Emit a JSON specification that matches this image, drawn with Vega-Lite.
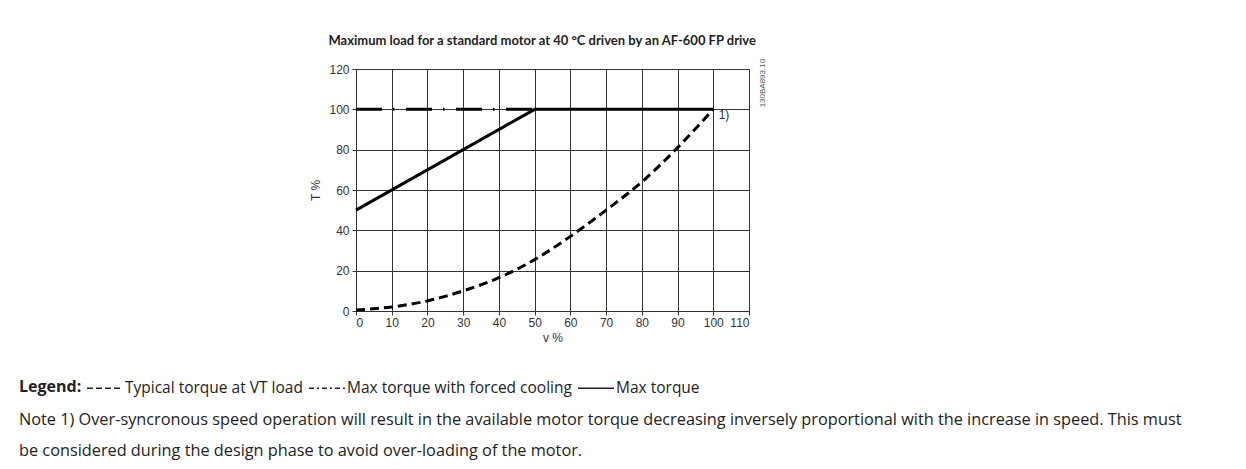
{
  "$schema": "https://vega.github.io/schema/vega-lite/v6.json",
  "background": "white",
  "padding": {"left": 18, "top": 35, "right": 10, "bottom": 10},
  "config": {
    "view": {"stroke": "#333", "strokeWidth": 1},
    "font": "Liberation Sans",
    "axis": {
      "gridColor": "#333", "gridOpacity": 1, "gridWidth": 1,
      "domainColor": "#333", "tickColor": "#333", "tickSize": 4,
      "labelColor": "#333", "labelFont": "Liberation Sans", "labelFontSize": 12,
      "titleFont": "Liberation Sans", "titleFontWeight": "normal", "titleFontSize": 12, "titleColor": "#333"
    }
  },
  "datasets": {
    "curves": [
      {"series": "Typical torque at VT load", "v": 0, "t": 0.5},
      {"series": "Typical torque at VT load", "v": 10, "t": 2},
      {"series": "Typical torque at VT load", "v": 20, "t": 5},
      {"series": "Typical torque at VT load", "v": 30, "t": 10},
      {"series": "Typical torque at VT load", "v": 40, "t": 16.5},
      {"series": "Typical torque at VT load", "v": 50, "t": 25.5},
      {"series": "Typical torque at VT load", "v": 60, "t": 37},
      {"series": "Typical torque at VT load", "v": 70, "t": 50},
      {"series": "Typical torque at VT load", "v": 80, "t": 64},
      {"series": "Typical torque at VT load", "v": 90, "t": 81},
      {"series": "Typical torque at VT load", "v": 100, "t": 100},
      {"series": "Max torque with forced cooling", "v": 0, "t": 100},
      {"series": "Max torque with forced cooling", "v": 50, "t": 100},
      {"series": "Max torque", "v": 0, "t": 50},
      {"series": "Max torque", "v": 50, "t": 100},
      {"series": "Max torque", "v": 100, "t": 100}
    ],
    "notes": [
      {"label": "1)", "v": 101.5, "t": 97}
    ],
    "code": [
      {"label": "130BA893.10", "v": 113.9, "t": 113}
    ]
  },
  "title": {
    "text": "Maximum load for a standard motor at 40 °C driven by an AF-600 FP drive",
    "font": "Lato", "fontSize": 13, "fontWeight": "bold", "color": "#222",
    "anchor": "start", "dx": 310, "dy": 2, "offset": 12
  },
  "vconcat": [
    {
      "width": 393,
      "height": 242,
      "title": {
        "text": [
          "Note 1) Over-syncronous speed operation will result in the available motor torque decreasing inversely proportional with the increase in speed. This must",
          "be considered during the design phase to avoid over-loading of the motor."
        ],
        "orient": "bottom", "anchor": "start", "frame": "group", "dx": -337, "offset": 69,
        "font": "Open Sans", "fontSize": 16.3, "fontWeight": "normal", "color": "#222", "lineHeight": 31
      },
      "encoding": {
        "x": {"field": "v", "type": "quantitative", "scale": {"domain": [0, 110], "nice": false},
          "axis": {"values": [0, 10, 20, 30, 40, 50, 60, 70, 80, 90, 100, 110], "title": "v %", "labelPadding": 2, "titlePadding": 4, "labelOverlap": false}},
        "y": {"field": "t", "type": "quantitative", "scale": {"domain": [0, 120], "nice": false},
          "axis": {"values": [0, 20, 40, 60, 80, 100, 120], "title": "T %", "labelPadding": 3, "titlePadding": 6, "labelOverlap": false}}
      },
      "layer": [
        {
          "data": {"name": "curves"},
          "mark": {"type": "line", "color": "black", "strokeWidth": 0},
          "encoding": {
            "strokeDash": {
              "field": "series", "type": "nominal",
              "scale": {
                "domain": ["Typical torque at VT load", "Max torque with forced cooling", "Max torque"],
                "range": [[6, 3], [5, 3, 2, 3], [1, 0]]
              },
              "legend": {
                "orient": "none", "direction": "horizontal", "legendX": -337, "legendY": 300,
                "title": "Legend:", "titleOrient": "left", "titleAnchor": "middle", "titleBaseline": "line-top", "titleLineHeight": 8,
                "titleFont": "Open Sans", "titleFontWeight": "bold",
                "titleFontSize": 16, "titleColor": "#222", "titlePadding": 4,
                "labelFont": "Open Sans", "labelFontSize": 15.5, "labelColor": "#222", "labelOffset": 1,
                "symbolType": "stroke", "symbolSize": 1300, "symbolStrokeWidth": 1.6, "symbolStrokeColor": "#222",
                "columnPadding": 2, "labelLimit": 400
              }
            }
          }
        },
        {
          "data": {"name": "curves"},
          "transform": [{"filter": "datum.series === 'Typical torque at VT load'"}],
          "mark": {"type": "line", "color": "black", "strokeWidth": 3, "interpolate": "monotone", "strokeDash": [9, 5]},
          "encoding": {}
        },
        {
          "data": {"name": "curves"},
          "transform": [{"filter": "datum.series === 'Max torque with forced cooling'"}],
          "mark": {"type": "line", "color": "black", "strokeWidth": 3, "strokeDash": [26, 11, 1.5, 11.5]},
          "encoding": {}
        },
        {
          "data": {"name": "curves"},
          "transform": [{"filter": "datum.series === 'Max torque'"}],
          "mark": {"type": "line", "color": "black", "strokeWidth": 3},
          "encoding": {}
        },
        {
          "data": {"name": "notes"},
          "mark": {"type": "text", "align": "left", "baseline": "middle", "fontSize": 12, "color": "#333", "font": "Liberation Sans"},
          "encoding": {
            "text": {"field": "label"}
          }
        },
        {
          "data": {"name": "code"},
          "mark": {"type": "text", "align": "center", "baseline": "middle", "angle": 270, "fontSize": 8, "color": "#555", "font": "Liberation Sans"},
          "encoding": {
            "text": {"field": "label"}
          }
        }
      ]
    }
  ]
}
